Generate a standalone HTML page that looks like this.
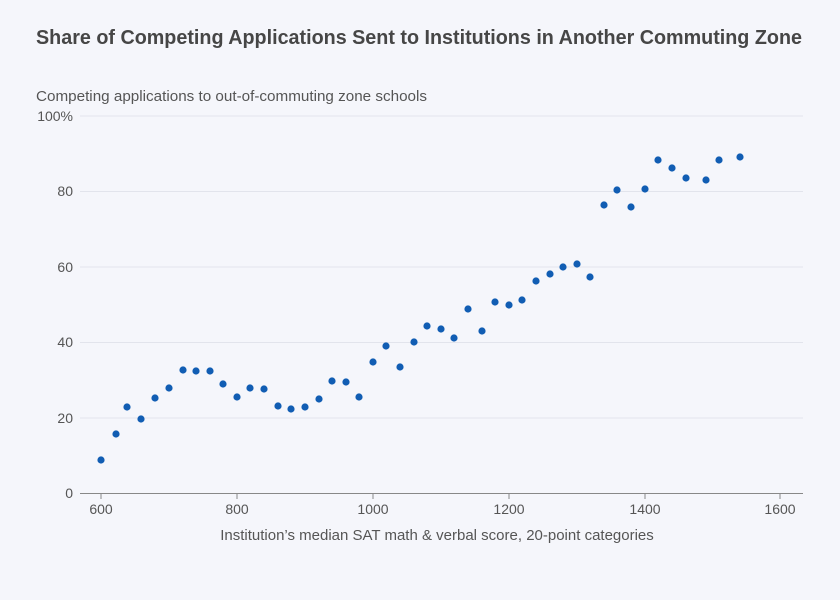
<!DOCTYPE html>
<html><head><meta charset="utf-8"><style>
body{margin:0;background:#f5f6fb;}
svg{display:block;font-family:"Liberation Sans",sans-serif;}
</style></head><body>
<svg width="840" height="600" viewBox="0 0 840 600">
<rect width="840" height="600" fill="#f5f6fb"/>
<text x="36" y="44" font-size="20" font-weight="bold" fill="#464646" textLength="766" lengthAdjust="spacingAndGlyphs">Share of Competing Applications Sent to Institutions in Another Commuting Zone</text>
<text x="36" y="101" font-size="15" fill="#555" textLength="391" lengthAdjust="spacingAndGlyphs">Competing applications to out-of-commuting zone schools</text>
<g stroke="#e2e4ec" stroke-width="1">
<line x1="80" x2="803" y1="116" y2="116"/>
<line x1="80" x2="803" y1="191.5" y2="191.5"/>
<line x1="80" x2="803" y1="267" y2="267"/>
<line x1="80" x2="803" y1="342.5" y2="342.5"/>
<line x1="80" x2="803" y1="418" y2="418"/>
</g>
<line x1="80" x2="803" y1="493.5" y2="493.5" stroke="#888"/>
<g stroke="#888"><line x1="101" x2="101" y1="493" y2="499"/><line x1="237" x2="237" y1="493" y2="499"/><line x1="373" x2="373" y1="493" y2="499"/><line x1="509" x2="509" y1="493" y2="499"/><line x1="645" x2="645" y1="493" y2="499"/><line x1="780" x2="780" y1="493" y2="499"/></g>
<g font-size="14" fill="#555" text-anchor="end">
<text x="73" y="121">100%</text><text x="73" y="196">80</text><text x="73" y="272">60</text><text x="73" y="347">40</text><text x="73" y="423">20</text><text x="73" y="498">0</text>
</g>
<g font-size="14" fill="#555" text-anchor="middle">
<text x="101" y="514">600</text><text x="237" y="514">800</text><text x="373" y="514">1000</text><text x="509" y="514">1200</text><text x="645" y="514">1400</text><text x="780" y="514">1600</text>
<text x="437" y="540" font-size="15">Institution’s median SAT math &amp; verbal score, 20-point categories</text>
</g>
<g fill="#115db3">
<circle cx="101" cy="460" r="3.6"/><circle cx="116" cy="434" r="3.6"/><circle cx="127" cy="407" r="3.6"/><circle cx="141" cy="419" r="3.6"/><circle cx="155" cy="398" r="3.6"/><circle cx="169" cy="388" r="3.6"/><circle cx="183" cy="370" r="3.6"/><circle cx="196" cy="371" r="3.6"/><circle cx="210" cy="371" r="3.6"/><circle cx="223" cy="384" r="3.6"/><circle cx="237" cy="397" r="3.6"/><circle cx="250" cy="388" r="3.6"/><circle cx="264" cy="389" r="3.6"/><circle cx="278" cy="406" r="3.6"/><circle cx="291" cy="409" r="3.6"/><circle cx="305" cy="407" r="3.6"/><circle cx="319" cy="399" r="3.6"/><circle cx="332" cy="381" r="3.6"/><circle cx="346" cy="382" r="3.6"/><circle cx="359" cy="397" r="3.6"/><circle cx="373" cy="362" r="3.6"/><circle cx="386" cy="346" r="3.6"/><circle cx="400" cy="367" r="3.6"/><circle cx="414" cy="342" r="3.6"/><circle cx="427" cy="326" r="3.6"/><circle cx="441" cy="329" r="3.6"/><circle cx="454" cy="338" r="3.6"/><circle cx="468" cy="309" r="3.6"/><circle cx="482" cy="331" r="3.6"/><circle cx="495" cy="302" r="3.6"/><circle cx="509" cy="305" r="3.6"/><circle cx="522" cy="300" r="3.6"/><circle cx="536" cy="281" r="3.6"/><circle cx="550" cy="274" r="3.6"/><circle cx="563" cy="267" r="3.6"/><circle cx="577" cy="264" r="3.6"/><circle cx="590" cy="277" r="3.6"/><circle cx="604" cy="205" r="3.6"/><circle cx="617" cy="190" r="3.6"/><circle cx="631" cy="207" r="3.6"/><circle cx="645" cy="189" r="3.6"/><circle cx="658" cy="160" r="3.6"/><circle cx="672" cy="168" r="3.6"/><circle cx="686" cy="178" r="3.6"/><circle cx="706" cy="180" r="3.6"/><circle cx="719" cy="160" r="3.6"/><circle cx="740" cy="157" r="3.6"/>
</g>
</svg>
</body></html>
